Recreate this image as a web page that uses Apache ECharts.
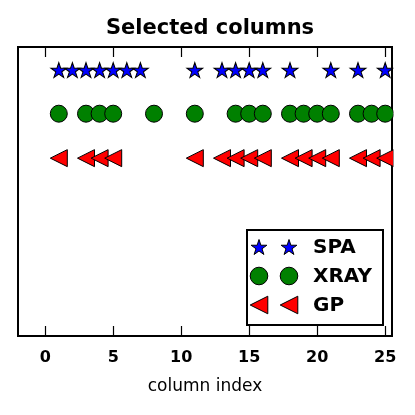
<!DOCTYPE html>
<html><head><meta charset="utf-8">
<script src="https://cdn.jsdelivr.net/npm/echarts@6/dist/echarts.min.js"></script>
<style>html,body{margin:0;padding:0;background:#fff}#c{width:415px;height:415px}</style>
</head><body><div id="c"></div>
<script>
// ---- data ----
const spaCols = [1,2,3,4,5,6,7,11,13,14,15,16,18,21,23,25];
const xrayCols = [1,3,4,5,8,11,14,15,16,18,19,20,21,23,24,25];
const gpCols = [1,3,4,5,11,13,14,15,16,18,19,20,21,23,24,25];
const seriesNames = ['SPA','XRAY','GP'];
const rowLevels = [3,2,1];
const xTickValues = [0,5,10,15,20,25];
const titleText = 'Selected columns';
const xAxisName = 'column index';

// ---- helpers ----
function starPoints(cx, cy, R) {
  const r = R * 0.381966, pts = [];
  for (let i = 0; i < 10; i++) {
    const a = (-90 + i * 36) * Math.PI / 180;
    const rr = i % 2 === 0 ? R : r;
    pts.push([cx + rr * Math.cos(a), cy + rr * Math.sin(a)]);
  }
  return pts;
}
const starPath = 'path://' + starPoints(10, 10, 10).map((p, i) => (i ? 'L' : 'M') + p[0].toFixed(3) + ',' + p[1].toFixed(3)).join(' ') + ' Z';
const triPath = 'path://M0,5 L10,0 L10,10 Z';

const FONT = 'DejaVu Sans';
const colors = ['#0000ff', '#008000', '#ff0000'];
const symbols = [starPath, 'circle', triPath];
const sizes = [[15.8, 15], 17, 17];
const offsets = [[0, 0.8], [0, 0], [0, 0]];
const colsList = [spaCols, xrayCols, gpCols];

const series = seriesNames.map((name, k) => ({
  name: name,
  type: 'scatter',
  data: colsList[k].map(c => [c, rowLevels[k]]),
  symbol: symbols[k],
  symbolSize: sizes[k],
  symbolOffset: offsets[k],
  itemStyle: { color: colors[k], borderColor: '#000', borderWidth: 1, opacity: 1 },
  emphasis: { disabled: true },
  clip: true,
  z: 2 + k
}));

// legend built with graphic (two markers per entry, like matplotlib)
const lgLeft = 247, lgTop = 230, lgW = 136, lgH = 95;
const rowY = [247, 276, 305];
const mX = [259, 289];
const lgChildren = [{
  type: 'rect', shape: { x: lgLeft, y: lgTop, width: lgW, height: lgH },
  style: { fill: '#fff', stroke: '#000', lineWidth: 2 }
}];
seriesNames.forEach((name, k) => {
  mX.forEach(x => {
    const st = { fill: colors[k], stroke: '#000', lineWidth: 1 };
    if (k === 0) lgChildren.push({ type: 'polygon', shape: { points: starPoints(x, rowY[k] + 0.8, 8.3) }, style: st });
    else if (k === 1) lgChildren.push({ type: 'circle', shape: { cx: x, cy: rowY[k], r: 8.8 }, style: st });
    else lgChildren.push({ type: 'polygon', shape: { points: [[x - 8.8, rowY[k]], [x + 8.8, rowY[k] - 8.8], [x + 8.8, rowY[k] + 8.8]] }, style: st });
  });
  lgChildren.push({
    type: 'text', x: 313, y: rowY[k] + 1,
    style: { text: name, font: 'bold 20px "DejaVu Sans"', fill: '#000', verticalAlign: 'middle' }
  });
});

const chart = echarts.init(document.getElementById('c'), null, { renderer: 'canvas' });
chart.setOption({
  animation: false,
  backgroundColor: '#fff',
  title: {
    text: titleText, left: 205, top: 13, textAlign: 'center',
    textStyle: { fontFamily: FONT, fontWeight: 'bold', fontSize: 21, color: '#000' }
  },
  grid: {
    left: 18, top: 47, width: 374, height: 289,
    show: true, borderColor: '#000', borderWidth: 2, backgroundColor: 'transparent'
  },
  xAxis: [{
    type: 'value', min: -2, max: 25.5, position: 'bottom',
    name: xAxisName, nameLocation: 'middle', nameGap: 42,
    nameTextStyle: { fontFamily: FONT, fontSize: 17, color: '#000' },
    axisLine: { show: false, onZero: false },
    splitLine: { show: false },
    axisTick: { show: true, inside: true, length: 10, customValues: xTickValues, lineStyle: { color: '#000', width: 1.2 } },
    axisLabel: { show: true, customValues: xTickValues, margin: 14, fontFamily: FONT, fontWeight: 'bold', fontSize: 16, color: '#000' }
  }, {
    type: 'value', min: -2, max: 25.5, position: 'top',
    axisLine: { show: false, onZero: false },
    splitLine: { show: false },
    axisTick: { show: true, inside: true, length: 10, customValues: xTickValues, lineStyle: { color: '#000', width: 1.2 } },
    axisLabel: { show: false }
  }],
  yAxis: {
    type: 'value', min: -3, max: 3.5, show: false, splitLine: { show: false }
  },
  series: series,
  graphic: [
    { type: 'rect', z: 50, shape: { x: 393.5, y: 40, width: 22, height: 305 }, style: { fill: '#fff' } },
    { type: 'group', z: 100, children: lgChildren }
  ]
});
</script>
</body></html>
